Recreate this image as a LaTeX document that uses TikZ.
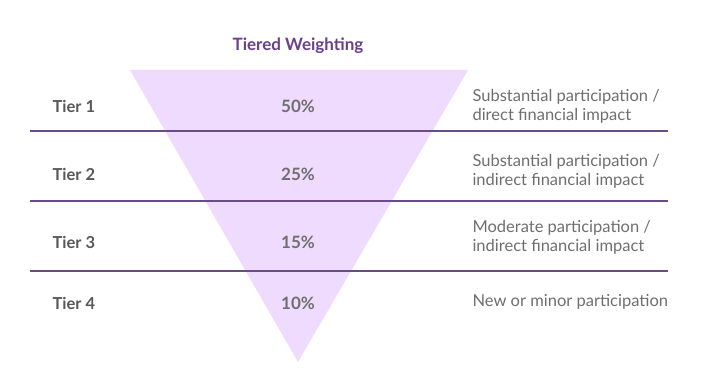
\documentclass[tikz,border=0pt]{standalone}
\usepackage{fontspec}
\setmainfont{Lato}
\usepackage{tikz}
\definecolor{tierpurple}{HTML}{6B3F8A}
\definecolor{tierline}{HTML}{6A4C88}
\definecolor{tierfill}{HTML}{EEDBFD}
\definecolor{tiergray}{HTML}{585858}
\definecolor{descgray}{HTML}{6E6E6E}
\newcommand{\rowh}[0] {70}

\begin{document}
\begin{tikzpicture}[x=1pt,y=-1pt]
        \useasboundingbox (0,0) rectangle (704,379);
        %weighting triangle
        \coordinate (tl) at (130,70);
        \coordinate (tr) at (468,70);
        \coordinate (tip) at (298,362);
        \fill[tierfill] (tl) -- (tr) -- (tip) -- cycle;
        %title
        \node[text=tierpurple,font=\bfseries\fontsize{17}{20}\selectfont] (title) at (298,46) {Tiered Weighting};
        %tiers
        \node[anchor=west,text=tiergray,font=\bfseries\fontsize{16.5}{20}\selectfont] (t1) at (49,106) {Tier 1};
        \node[anchor=west,text=tiergray,font=\bfseries\fontsize{16.5}{20}\selectfont] (t2) at (49,\rowh+104) {Tier 2};
        \node[anchor=west,text=tiergray,font=\bfseries\fontsize{16.5}{20}\selectfont] (t3) at (49,\rowh*2+102) {Tier 3};
        \node[anchor=west,text=tiergray,font=\bfseries\fontsize{16.5}{20}\selectfont] (t4) at (49,\rowh*3+93) {Tier 4};
        %weights
        \node[text=descgray,font=\bfseries\fontsize{17}{20}\selectfont] (w1) at (298,106) {50\%};
        \node[text=descgray,font=\bfseries\fontsize{17}{20}\selectfont] (w2) at (298,\rowh+104) {25\%};
        \node[text=descgray,font=\bfseries\fontsize{17}{20}\selectfont] (w3) at (298,\rowh*2+102) {15\%};
        \node[text=descgray,font=\bfseries\fontsize{17}{20}\selectfont] (w4) at (298,\rowh*3+93) {10\%};
        %descriptions
        \node[anchor=west,align=left,text=descgray,font=\fontsize{16.5}{19}\selectfont] (d1) at (469,106) {Substantial participation /\\direct financial impact};
        \node[anchor=west,align=left,text=descgray,font=\fontsize{16.5}{19}\selectfont] (d2) at (469,\rowh+101) {Substantial participation /\\indirect financial impact};
        \node[anchor=west,align=left,text=descgray,font=\fontsize{16.5}{19}\selectfont] (d3) at (469,\rowh*2+97) {Moderate participation /\\indirect financial impact};
        \node[anchor=west,align=left,text=descgray,font=\fontsize{16.5}{19}\selectfont] (d4) at (469,\rowh*3+92) {New or minor participation};
        %row separators
        \coordinate (l1) at (30,131);
        \coordinate (r1) at (668,131);
        \coordinate (l2) at (30,131+\rowh);
        \coordinate (r2) at (668,131+\rowh);
        \coordinate (l3) at (30,131+\rowh*2);
        \coordinate (r3) at (668,131+\rowh*2);
        \path[-,draw=tierline,line width=1.6pt] (l1) edge (r1);
        \path[-,draw=tierline,line width=1.6pt] (l2) edge (r2);
        \path[-,draw=tierline,line width=1.6pt] (l3) edge (r3);
\end{tikzpicture}
\end{document}
